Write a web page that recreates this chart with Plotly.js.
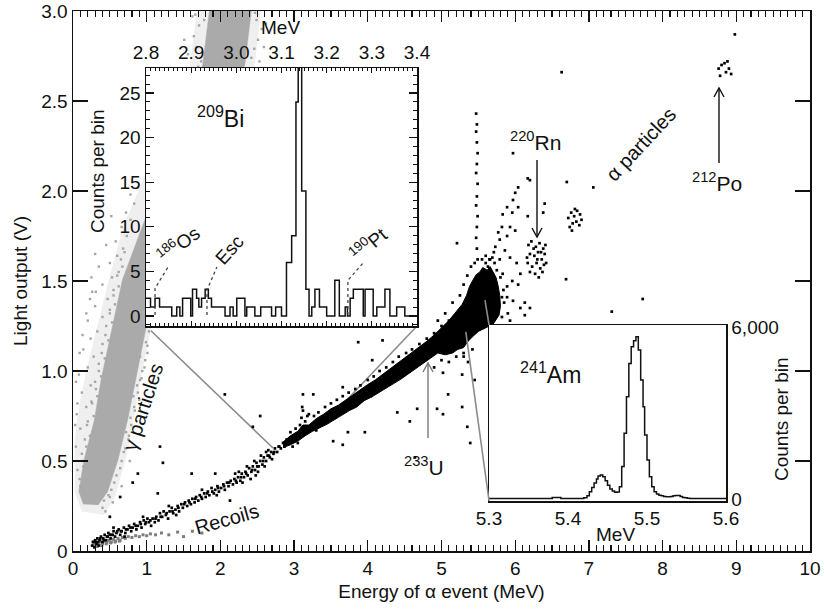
<!DOCTYPE html>
<html>
<head>
<meta charset="utf-8">
<script src="https://cdn.plot.ly/plotly-3.0.1.min.js"></script>
<style>html,body{margin:0;padding:0;background:#fff}</style>
</head>
<body>
<div id="chart" style="width:824px;height:610px"></div>
<script>
// ---------------- inset: 209Bi spectrum (bin left edges, last value = right end) ----------------
const biEdges = [2.800,2.810,2.820,2.830,2.857,2.868,2.875,2.881,2.899,2.903,2.912,2.917,2.923,2.931,2.938,2.945,
  2.975,2.986,2.993,3.001,3.019,3.023,3.041,3.054,3.078,3.087,3.100,3.111,3.1225,3.132,3.137,3.1447,3.154,3.161,
  3.167,3.174,3.184,3.200,3.218,3.228,3.241,3.246,3.252,3.259,3.281,3.285,3.303,3.311,3.329,3.340,3.355,3.373,3.400];
const biCounts = [2,1,2,1,0,1,0,2,0,3,2,1,2,3,2,1,0,1,0,2,0,1,0,1,0,1,0,6,9,24,30,14,3,0,1,3,1,0,4,0,1,0,2,3,0,3,0,1,3,0,1,0];
const biTicks = [2.8,2.9,3.0,3.1,3.2,3.3,3.4];

// ---------------- inset: 241Am spectrum ----------------
const amEdges = [5.300,5.380,5.391,5.420,5.424,5.427,5.430,5.433,5.436,5.438,5.441,5.444,5.447,5.450,5.453,5.456,5.459,
  5.462,5.465,5.468,5.471,5.474,5.477,5.480,5.483,5.486,5.489,5.492,5.495,5.497,5.500,5.503,5.506,5.509,5.512,5.515,
  5.518,5.521,5.524,5.527,5.530,5.533,5.536,5.539,5.542,5.545,5.548,5.551,5.554,5.600];
const amCounts = [15,55,15,40,110,256,400,560,700,800,840,780,640,480,350,280,235,240,430,1130,2290,3570,4730,5310,5520,
  5660,5200,4150,3220,2230,1360,780,430,256,174,130,110,85,80,80,90,110,125,120,90,55,40,25,15];
const amTicks = [5.3,5.4,5.5,5.6];
const amYTicks = [0,6000];
const amYLabels = ['0','6,000'];

// ---------------- main axes ticks ----------------
const mainYTicks = [0,0.5,1.0,1.5,2.0,2.5,3.0];
const mainYLabels = ['0','0.5','1.0','1.5','2.0','2.5','3.0'];

// ---------------- gamma events: outer envelope, dense core and sparse surrounding events ----------------
const gammaOuterE = [0.12,0.03,0.02,0.08,0.18,0.33,0.48,0.68,1.58,1.68,2.55,2.46,1.22,1.07,0.94,0.83,0.71,0.57,0.42];
const gammaOuterL = [0.22,0.32,0.60,0.80,1.00,1.25,1.50,1.80,2.68,3.00,3.00,2.68,1.50,1.25,1.00,0.75,0.50,0.30,0.20];
const gammaCoreE = [0.14,0.08,0.15,0.29,0.38,0.53,0.67,1.76,1.85,2.42,2.33,1.12,0.98,0.85,0.74,0.61,0.47,0.34];
const gammaCoreL = [0.26,0.33,0.506,0.728,0.95,1.228,1.506,2.70,3.0,3.0,2.70,1.506,1.228,0.95,0.728,0.506,0.33,0.255];
const gammaHaloE = [
  // left of the core
  0.10,0.06,0.13,0.04,0.16,0.10,0.19,0.05,0.18,0.26,0.12,0.24,0.31,0.08,0.20,0.35,0.28,0.14,0.39,0.24,
  0.33,0.44,0.20,0.40,0.50,0.30,0.47,0.55,0.26,0.40,0.53,0.62,0.50,0.60,0.68,0.58,0.73,0.66,0.78,0.72,0.83,0.78,0.88,
  0.09,0.14,0.12,0.18,0.23,0.20,0.28,0.25,0.33,0.30,0.38,0.35,0.43,0.40,0.48,0.45,0.53,0.50,0.57,0.55,0.62,0.60,
  0.67,0.65,0.70,0.03,0.06,0.04,0.09,0.13,0.18,0.25,0.35,0.30,0.45,0.38,0.52,0.23,0.31,
  // right of the core
  0.50,0.56,0.64,0.69,0.75,0.72,0.79,0.84,0.82,0.90,0.87,0.93,0.97,0.91,1.01,0.99,1.03,0.77,0.66,0.54,0.44,0.40,
  0.52,0.59,0.66,0.71,0.76,0.78,0.83,0.88,0.91,0.94,0.98,1.01,0.42,0.48,
  // top, above the inset
  1.68,1.71,1.74,1.64,2.49,2.51,2.42,2.56,1.56,2.59,1.78,1.51,2.53,1.62,2.47,1.70,2.46,1.79,2.62,1.66];
const gammaHaloL = [
  0.36,0.45,0.50,0.58,0.62,0.68,0.70,0.76,0.80,0.82,0.88,0.92,0.90,0.98,1.02,1.00,1.08,1.12,1.10,1.18,
  1.22,1.20,1.28,1.30,1.32,1.36,1.40,1.42,1.44,1.48,1.52,1.55,1.60,1.64,1.68,1.72,1.75,1.80,1.84,1.88,1.93,1.98,2.02,
  0.40,0.47,0.54,0.58,0.64,0.72,0.75,0.83,0.86,0.94,0.97,1.04,1.07,1.15,1.17,1.25,1.27,1.34,1.37,1.45,1.47,1.53,
  1.58,1.62,1.66,0.70,0.82,0.94,1.10,1.20,1.32,1.52,1.58,1.65,1.70,1.78,1.86,1.40,1.44,
  0.30,0.38,0.46,0.55,0.62,0.66,0.70,0.78,0.86,0.84,0.92,0.96,1.02,1.08,1.10,1.16,1.22,0.50,0.36,0.27,0.22,0.24,
  0.34,0.42,0.50,0.57,0.64,0.74,0.80,0.88,0.95,1.00,1.06,1.14,0.28,0.31,
  2.80,2.92,2.72,2.86,2.95,2.84,2.74,2.90,2.76,2.80,2.95,2.84,2.72,2.97,2.99,2.69,2.79,2.70,2.93,2.98];

// ---------------- recoil events ----------------
const recoilE = [0.28,0.31,0.34,0.37,0.40,0.43,0.46,0.49,0.52,0.55,0.58,0.61,0.64,0.67,0.71,0.75,0.80,0.85,0.90,0.95,1.00,
  1.05,1.12,1.20,1.30,1.42,1.50,1.62,1.75,0.33,0.39,0.45,0.51,0.57,0.63];
const recoilL = [0.03,0.04,0.035,0.05,0.04,0.055,0.045,0.06,0.05,0.065,0.055,0.07,0.06,0.075,0.07,0.08,0.075,0.085,0.08,
  0.09,0.085,0.095,0.09,0.10,0.09,0.105,0.08,0.11,0.10,0.025,0.03,0.04,0.045,0.05,0.055];

// ---------------- alpha events: dense band outline ----------------
const alphaBandE = [2.85,2.95,3.05,3.12,3.20,3.30,3.40,3.50,3.60,3.70,3.80,3.90,4.00,4.10,4.20,4.30,4.40,4.50,4.60,4.70,
  4.80,4.90,5.00,5.10,5.20,5.28,5.34,5.38,5.42,5.47,5.52,5.56,5.62,5.66,5.70,5.74,5.77,5.79,5.80,5.78,
  5.70,5.60,5.50,5.42,5.35,5.30,5.22,5.15,5.05,4.95,4.85,4.75,4.65,4.55,4.45,4.35,4.25,4.15,4.05,3.95,3.85,3.75,
  3.65,3.55,3.45,3.35,3.25,3.15,3.05,2.95,2.85];
const alphaBandL = [0.605,0.64,0.665,0.70,0.70,0.735,0.76,0.79,0.81,0.84,0.865,0.90,0.925,0.95,0.98,1.01,1.04,1.07,1.10,
  1.135,1.165,1.20,1.24,1.28,1.33,1.37,1.42,1.47,1.50,1.535,1.55,1.575,1.56,1.58,1.55,1.52,1.47,1.42,1.36,1.31,
  1.26,1.24,1.22,1.19,1.16,1.13,1.12,1.10,1.09,1.10,1.07,1.045,1.01,0.98,0.955,0.93,0.905,0.88,0.855,0.835,0.80,0.78,
  0.755,0.73,0.705,0.685,0.665,0.64,0.61,0.59,0.575];

// ---------------- alpha events: individual points ----------------
const alphaE = [
  // low-energy part of the band
  0.26,0.28,0.29,0.30,0.32,0.33,0.35,0.36,0.38,0.40,0.41,0.43,0.45,0.47,0.48,0.51,0.52,0.55,0.57,0.59,0.62,0.64,0.66,
  0.69,0.71,0.74,0.76,0.79,0.81,0.83,0.86,0.88,0.91,0.93,0.96,0.98,1.01,1.03,1.06,1.08,1.11,1.13,1.16,1.18,1.21,1.23,
  1.26,1.29,1.31,1.34,1.36,1.39,1.42,1.44,1.47,1.49,1.52,1.55,1.57,1.60,1.62,1.65,1.67,1.70,1.72,1.75,1.78,1.80,1.83,
  1.85,1.88,1.91,1.93,1.96,1.98,2.01,2.04,2.06,2.09,2.11,2.14,2.17,2.19,2.22,2.24,2.27,2.29,2.32,2.34,2.37,2.39,2.42,
  2.44,2.47,2.49,2.52,2.54,2.57,2.59,2.62,2.64,2.67,2.69,2.72,2.74,2.77,2.79,2.82,2.85,2.87,2.90,
  2.20,2.30,2.36,2.41,2.46,2.51,2.55,2.60,2.65,2.70,
  0.27,0.31,0.34,0.37,0.42,0.46,0.50,0.54,0.60,0.65,0.72,0.78,0.85,0.92,0.99,1.05,1.12,1.19,1.27,1.35,1.43,1.51,1.58,
  1.66,1.74,1.82,1.89,1.97,2.05,2.12,2.21,2.28,2.35,2.43,2.50,2.58,2.66,2.73,2.80,
  0.55,0.95,1.40,1.75,2.25,2.48,0.70,1.30,1.95,2.62,
  // clump near 3.1 MeV
  3.08,3.10,3.12,3.15,3.17,3.13,3.18,3.11,
  // fringe of the dense band
  2.95,2.98,3.02,3.05,3.20,3.22,3.27,3.30,3.33,3.38,3.42,3.46,3.50,3.55,3.58,3.62,3.66,3.70,3.74,3.79,3.83,3.87,3.90,
  3.95,4.00,4.04,4.08,4.12,4.16,4.20,4.25,4.30,4.34,4.38,4.42,4.47,4.52,4.56,4.60,4.65,4.70,4.75,4.80,4.85,4.90,4.95,
  5.00,5.05,5.10,5.15,5.30,5.36,5.42,5.28,5.45,
  // fringe of the 241Am blob
  5.25,5.30,5.35,5.40,5.45,5.55,5.60,5.65,5.72,5.80,5.84,5.85,5.82,5.20,5.10,5.00,4.90,5.15,5.05,4.95,5.30,
  // scattered events
  2.06,2.54,2.44,1.18,1.22,0.88,0.81,1.61,1.15,1.93,2.13,0.64,0.50,3.12,3.26,3.66,3.87,4.20,4.06,4.40,4.67,4.57,3.96,
  3.53,3.66,3.73,4.94,5.02,5.02,5.09,4.64,5.35,5.39,5.28,5.21,6.63,5.97,6.70,7.06,6.69,7.73,7.31,8.98,6.17,
  // column of events near 5.48 MeV
  5.47,5.48,5.47,5.48,5.49,5.48,5.47,5.49,5.48,5.47,5.49,5.48,5.47,5.48,5.49,
  // spread above the 241Am blob
  6.20,6.04,6.00,5.97,5.89,6.04,5.96,5.83,5.82,5.93,5.77,5.89,5.79,5.73,5.86,5.69,5.79,5.93,6.02,5.63,5.75,6.07,5.96,
  5.89,6.04,5.82,5.97,6.13,6.20,6.07,5.90,5.93,6.13,5.89,5.73,5.83,6.38,6.17,6.40,6.16,6.00,5.66,5.71,5.60,
  // 220Rn group
  6.18,6.22,6.28,6.33,6.38,6.20,6.26,6.31,6.36,6.40,6.17,6.23,6.29,6.34,6.39,6.20,6.27,6.32,6.37,6.42,6.25,6.30,6.35,6.41,
  // group near 6.8 MeV
  6.72,6.76,6.80,6.84,6.88,6.78,6.83,6.87,6.74,6.90,6.81,6.77,
  // 212Po group
  8.76,8.80,8.84,8.86,8.90,8.93,8.78,8.88
];
const alphaL = [
  0.03,0.05,0.02,0.06,0.04,0.07,0.03,0.06,0.08,0.05,0.07,0.09,0.06,0.08,0.10,0.07,0.09,0.11,0.08,0.10,0.12,0.09,0.11,
  0.13,0.10,0.12,0.14,0.11,0.13,0.15,0.12,0.14,0.16,0.13,0.17,0.15,0.18,0.16,0.14,0.18,0.16,0.19,0.17,0.21,0.19,0.22,
  0.20,0.18,0.22,0.24,0.21,0.23,0.25,0.22,0.26,0.24,0.27,0.25,0.28,0.26,0.29,0.27,0.30,0.28,0.31,0.29,0.32,0.30,0.33,
  0.31,0.35,0.32,0.34,0.36,0.33,0.35,0.37,0.34,0.38,0.36,0.39,0.37,0.40,0.38,0.41,0.39,0.43,0.41,0.44,0.42,0.46,0.44,
  0.47,0.45,0.49,0.47,0.50,0.48,0.52,0.50,0.53,0.52,0.55,0.54,0.57,0.55,0.58,0.57,0.60,0.58,0.62,
  0.43,0.38,0.47,0.40,0.50,0.44,0.53,0.47,0.56,0.51,
  0.05,0.05,0.05,0.07,0.06,0.08,0.09,0.09,0.11,0.11,0.12,0.13,0.14,0.15,0.16,0.17,0.18,0.19,0.21,0.22,0.24,0.26,0.27,
  0.29,0.30,0.32,0.33,0.35,0.36,0.38,0.39,0.41,0.43,0.45,0.47,0.50,0.53,0.55,0.58,
  0.13,0.19,0.20,0.34,0.44,0.42,0.08,0.25,0.31,0.55,
  0.70,0.74,0.78,0.72,0.68,0.66,0.75,0.80,
  0.66,0.58,0.68,0.60,0.76,0.69,0.75,0.67,0.77,0.71,0.80,0.73,0.82,0.74,0.84,0.77,0.86,0.79,0.88,0.80,0.90,0.83,0.92,
  0.85,0.95,0.86,0.97,0.89,1.00,0.92,1.02,0.93,1.05,0.96,1.08,0.98,1.10,1.00,1.12,1.03,1.15,1.06,1.18,1.09,1.21,1.12,
  1.25,1.14,1.28,1.18,1.10,1.05,1.12,0.98,0.95,
  1.42,1.48,1.53,1.58,1.60,1.62,1.64,1.62,1.60,1.52,1.45,1.38,1.30,1.08,1.05,1.06,1.02,1.38,1.32,1.28,1.08,
  0.87,0.75,0.69,0.58,0.49,0.43,0.38,0.43,0.32,0.43,0.28,0.30,0.19,0.87,0.87,0.91,1.16,1.17,1.06,0.77,0.79,0.72,0.66,
  0.61,0.59,0.66,0.79,0.76,0.99,0.87,0.52,0.69,0.60,0.80,1.71,2.66,2.21,2.05,2.02,1.51,1.40,1.33,2.87,2.07,
  2.43,2.37,2.33,2.27,2.21,2.15,2.10,2.04,1.97,1.92,1.86,1.80,1.74,1.68,1.62,
  2.06,2.02,1.99,1.95,1.91,1.91,1.88,1.87,1.80,1.80,1.77,1.75,1.73,1.69,1.67,1.63,1.62,1.63,1.60,1.58,1.56,1.54,1.50,
  1.47,1.48,1.41,1.39,1.38,1.35,1.35,1.32,1.28,1.31,1.41,1.45,1.54,1.88,1.86,1.93,1.63,1.78,1.62,1.66,1.60,
  1.70,1.72,1.69,1.71,1.68,1.65,1.64,1.66,1.62,1.65,1.60,1.58,1.60,1.57,1.59,1.55,1.54,1.52,1.55,1.60,1.68,1.62,1.66,1.70,
  1.85,1.88,1.86,1.89,1.87,1.82,1.83,1.81,1.80,1.84,1.90,1.78,
  2.68,2.70,2.71,2.66,2.68,2.65,2.64,2.72
];

// ---------------- geometry helpers (plot area in pixels) ----------------
const PL = 73, PT = 11, PW = 737, PH = 540;
const px = v => (v - PL) / PW;
const py = v => (PT + PH - v) / PH;
const FONT = 'Liberation Sans, Arial, Helvetica, sans-serif';
const INK = '#111';

function label(text, x, y, size, angle) {
  return {text: text, xref: 'paper', yref: 'paper', x: px(x), y: py(y), showarrow: false,
    xanchor: 'center', yanchor: 'middle', textangle: angle || 0,
    font: {family: FONT, size: size, color: INK}};
}
// vertical arrow drawn as a shaft plus an open head
function vArrow(x, yTail, yTip, color) {
  const dir = yTip < yTail ? 1 : -1;   // +1: pointing up on screen
  const hy = yTip + dir * 9;
  return [
    {type: 'line', xref: 'paper', yref: 'paper', x0: px(x), y0: py(yTail), x1: px(x), y1: py(yTip),
     line: {color: color, width: 1.4}},
    {type: 'path', xref: 'paper', yref: 'paper',
     path: 'M' + px(x - 5) + ',' + py(hy) + ' L' + px(x) + ',' + py(yTip) + ' L' + px(x + 5) + ',' + py(hy),
     line: {color: color, width: 1.4}}
  ];
}

const traces = [
  {x: gammaOuterE, y: gammaOuterL, mode: 'lines', fill: 'toself', fillcolor: '#efefef',
   line: {width: 0, color: '#efefef'}, xaxis: 'x', yaxis: 'y', hoverinfo: 'skip'},
  {x: gammaCoreE, y: gammaCoreL, mode: 'lines', fill: 'toself', fillcolor: '#aaaaaa',
   line: {width: 0.5, color: '#aaaaaa'}, xaxis: 'x', yaxis: 'y', hoverinfo: 'skip'},
  {x: gammaHaloE, y: gammaHaloL, mode: 'markers', marker: {symbol: 'square', size: 2.4, color: '#a6a6a6'},
   xaxis: 'x', yaxis: 'y', hoverinfo: 'skip'},
  {x: recoilE, y: recoilL, mode: 'markers', marker: {symbol: 'square', size: 3, color: '#7d7d7d'},
   xaxis: 'x', yaxis: 'y', hoverinfo: 'skip'},
  {x: alphaBandE, y: alphaBandL, mode: 'lines', fill: 'toself', fillcolor: '#000',
   line: {width: 1, color: '#000'}, xaxis: 'x', yaxis: 'y', hoverinfo: 'skip'},
  {x: alphaE, y: alphaL, mode: 'markers', marker: {symbol: 'square', size: 2.7, color: '#000'},
   xaxis: 'x', yaxis: 'y', hoverinfo: 'skip'},
  {x: biEdges, y: biCounts.concat([0]), mode: 'lines', line: {shape: 'hv', width: 1.5, color: INK},
   xaxis: 'x2', yaxis: 'y2', hoverinfo: 'skip'},
  {x: amEdges, y: amCounts.concat([amCounts[amCounts.length - 1]]), mode: 'lines',
   line: {shape: 'hv', width: 1.5, color: INK}, xaxis: 'x3', yaxis: 'y3', hoverinfo: 'skip'}
];

const frame = {showline: true, linecolor: INK, linewidth: 1.5, showgrid: false, zeroline: false,
  tickcolor: INK, tickfont: {family: FONT, size: 19, color: INK}};

const layout = {
  width: 824, height: 610, autosize: false,
  margin: {l: PL, r: 824 - PL - PW, t: PT, b: 610 - PT - PH, pad: 0},
  paper_bgcolor: '#fff', plot_bgcolor: '#fff', showlegend: false,
  font: {family: FONT, size: 19, color: INK},
  xaxis: Object.assign({}, frame, {
    domain: [0, 1], range: [0, 10], tickmode: 'linear', tick0: 0, dtick: 1,
    ticks: 'inside', ticklen: 11, tickwidth: 1.4, mirror: 'ticks',
    minor: {tickmode: 'linear', tick0: 0, dtick: 0.1, ticks: 'inside', ticklen: 6, tickwidth: 1.1, tickcolor: INK},
    title: {text: 'Energy of α event (MeV)', font: {family: FONT, size: 19, color: INK}, standoff: 6}
  }),
  yaxis: Object.assign({}, frame, {
    domain: [0, 1], range: [0, 3], tickmode: 'array', tickvals: mainYTicks, ticktext: mainYLabels,
    ticks: 'inside', ticklen: 15, tickwidth: 1.4, mirror: 'ticks',
    title: {text: 'Light output (V)', font: {family: FONT, size: 19, color: INK}, standoff: 8}
  }),
  xaxis2: Object.assign({}, frame, {
    domain: [px(146), px(417)], anchor: 'y2', side: 'top', range: [2.8, 3.4],
    tickmode: 'array', tickvals: biTicks, ticktext: biTicks.map(v => v.toFixed(1)),
    ticks: 'inside', ticklen: 5, tickwidth: 1.2, mirror: 'ticks',
    minor: {tickmode: 'linear', tick0: 2.8, dtick: 0.01, ticks: 'inside', ticklen: 3, tickwidth: 1, tickcolor: INK}
  }),
  yaxis2: Object.assign({}, frame, {
    domain: [py(326), py(68)], anchor: 'x2', range: [-1.12, 27.8],
    tickmode: 'linear', tick0: 0, dtick: 5, ticks: 'inside', ticklen: 8, tickwidth: 1.2, mirror: 'ticks',
    minor: {tickmode: 'linear', tick0: 0, dtick: 1, ticks: 'inside', ticklen: 4, tickwidth: 1, tickcolor: INK}
  }),
  xaxis3: Object.assign({}, frame, {
    domain: [px(489), px(726)], anchor: 'y3', range: [5.3, 5.6],
    tickmode: 'array', tickvals: amTicks, ticktext: amTicks.map(v => v.toFixed(1)),
    ticks: '', mirror: true
  }),
  yaxis3: Object.assign({}, frame, {
    domain: [py(501), py(325)], anchor: 'x3', side: 'right', range: [-70, 6070],
    tickmode: 'array', tickvals: amYTicks, ticktext: amYLabels, ticks: '', mirror: true
  }),
  shapes: [
    // leader lines from the 209Bi inset to the alpha band
    {type: 'line', xref: 'x', yref: 'y', x0: 0.99, y0: 1.25, x1: 2.714, y1: 0.572, layer: 'below',
     line: {color: '#8c8c8c', width: 1.6}},
    {type: 'line', xref: 'x', yref: 'y', x0: 4.668, y0: 1.25, x1: 3.53, y1: 0.76, layer: 'below',
     line: {color: '#8c8c8c', width: 1.6}},
    // leader lines from the 241Am inset to the blob
    {type: 'line', xref: 'x', yref: 'y', x0: 5.645, y0: 1.256, x1: 5.59, y1: 1.394, layer: 'above',
     line: {color: '#8c8c8c', width: 1.6}},
    {type: 'line', xref: 'x', yref: 'y', x0: 5.645, y0: 0.278, x1: 5.33, y1: 1.217, layer: 'above',
     line: {color: '#8c8c8c', width: 1.6}},
    // dotted pointers inside the 209Bi inset
    {type: 'path', xref: 'x2', yref: 'y2', path: 'M2.820,0.1 L2.820,3.1 L2.849,5.5',
     line: {color: '#444', width: 1.3, dash: 'dot'}},
    {type: 'path', xref: 'x2', yref: 'y2', path: 'M2.935,0.1 L2.935,2.9 L2.957,5.5',
     line: {color: '#444', width: 1.3, dash: 'dot'}},
    {type: 'path', xref: 'x2', yref: 'y2', path: 'M3.247,0.1 L3.247,4.0 L3.280,5.9',
     line: {color: '#444', width: 1.3, dash: 'dot'}}
  ].concat(vArrow(428, 438, 363, '#777'), vArrow(537, 160, 237, INK), vArrow(719, 163, 88, INK)),
  annotations: [
    label('<sup>209</sup>Bi', 220, 117, 23),
    label('<sup>241</sup>Am', 550, 373, 23),
    label('<sup>186</sup>Os', 178, 244, 19, -38),
    label('Esc', 230, 250, 19, -48),
    label('<sup>190</sup>Pt', 368, 244, 19, -40),
    label('γ particles', 143, 407, 20, -72),
    label('Recoils', 227, 519, 20, -16),
    label('<sup>233</sup>U', 424, 466, 21),
    label('<sup>220</sup>Rn', 535, 141, 21),
    label('α particles', 641, 144, 20, -47),
    label('<sup>212</sup>Po', 717, 182, 21),
    label('MeV', 280, 27, 19),
    label('Counts per bin', 97, 171, 19, -90),
    label('MeV', 615, 534, 19),
    label('Counts per bin', 781, 419, 19, -90)
  ]
};

Plotly.newPlot('chart', traces, layout, {staticPlot: true, displayModeBar: false});
</script>
</body>
</html>
